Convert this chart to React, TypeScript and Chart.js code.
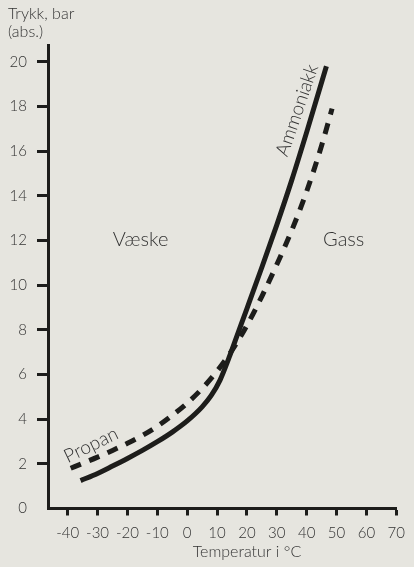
import React, { useEffect, useRef } from "react";
import { Chart, registerables } from "chart.js";

Chart.register(...registerables);

// Vapour pressure curves: temperature (°C) against absolute pressure (bar)
const ammoniaTemp = [-35.7, -30, -25, -20, -15, -10, -5, 0, 5, 8, 11, 14, 17, 20, 25, 30, 35, 40, 46.6];
const ammoniaPressure = [1.25, 1.57, 1.9, 2.24, 2.6, 2.99, 3.42, 3.92, 4.55, 5.05, 5.75, 6.75, 7.85, 8.95, 10.8, 12.7, 14.7, 16.85, 19.8];

const propaneTemp = [-39, -35, -30, -25, -20, -15, -10, -5, 0, 5, 10, 15, 20, 25, 30, 35, 40, 45, 48.5];
const propanePressure = [1.8, 2.02, 2.3, 2.6, 2.92, 3.27, 3.68, 4.17, 4.72, 5.37, 6.15, 7.08, 8.2, 9.5, 10.92, 12.45, 14.2, 16.25, 17.9];

const xTicks = [-40, -30, -20, -10, 0, 10, 20, 30, 40, 50, 60, 70];
const yTicks = [0, 2, 4, 6, 8, 10, 12, 14, 16, 18, 20];

const FONT = "Lato, 'Open Sans', sans-serif";
const WEIGHT = 300;
const INK = "#1d1d1b";
const TEXT = "#333333";
const BG = "#e6e5df";

// Text placed inside the plot, anchored in data coordinates
const plotLabels = [
  { text: "Væske", t: -15.6, p: 12.04, angle: 0, size: 20 },
  { text: "Gass", t: 52.4, p: 12.04, angle: 0, size: 20 },
  { text: "Ammoniakk", t: 36.8, p: 17.83, angle: -71, size: 19 },
  { text: "Propan", t: -32.2, p: 2.84, angle: -26, size: 19 },
];

const textPlugin = {
  id: "chartText",
  afterDraw(chart: any) {
    const { ctx, scales } = chart;
    ctx.save();
    ctx.fillStyle = TEXT;

    // y-axis title (two lines, top-left)
    ctx.font = `${WEIGHT} 16px ${FONT}`;
    ctx.textAlign = "left";
    ctx.textBaseline = "middle";
    ctx.fillText("Trykk, bar", 8, 14);
    ctx.fillText("(abs.)", 8, 32);

    // x-axis title
    ctx.textAlign = "center";
    ctx.fillText("Temperatur i °C", 247, 552);

    for (const l of plotLabels) {
      const px = scales.x.getPixelForValue(l.t);
      const py = scales.y.getPixelForValue(l.p);
      ctx.save();
      ctx.translate(px, py);
      ctx.rotate((l.angle * Math.PI) / 180);
      ctx.font = `${WEIGHT} ${l.size}px ${FONT}`;
      ctx.textAlign = "center";
      ctx.textBaseline = "middle";
      ctx.fillText(l.text, 0, 0);
      ctx.restore();
    }
    ctx.restore();
  },
};

const bgPlugin = {
  id: "bg",
  beforeDraw(chart: any) {
    const { ctx, width, height } = chart;
    ctx.save();
    ctx.fillStyle = BG;
    ctx.fillRect(0, 0, width, height);
    ctx.restore();
  },
};

export default function App() {
  const canvasRef = useRef<HTMLCanvasElement | null>(null);

  useEffect(() => {
    document.body.style.margin = "0";
    document.body.style.background = BG;
    const canvas = canvasRef.current;
    if (!canvas) return;

    const chart = new Chart(canvas, {
      type: "line",
      data: {
        datasets: [
          {
            label: "Ammoniakk",
            data: ammoniaTemp.map((t, i) => ({ x: t, y: ammoniaPressure[i] })),
            borderColor: INK,
            borderWidth: 5,
            pointRadius: 0,
            cubicInterpolationMode: "monotone",
            borderCapStyle: "butt",
            fill: false,
          },
          {
            label: "Propan",
            data: propaneTemp.map((t, i) => ({ x: t, y: propanePressure[i] })),
            borderColor: INK,
            borderWidth: 5,
            borderDash: [11, 9],
            pointRadius: 0,
            cubicInterpolationMode: "monotone",
            borderCapStyle: "butt",
            fill: false,
          },
        ],
      },
      options: {
        responsive: false,
        animation: false,
        layout: { padding: { top: 45, right: 11, left: 0, bottom: 0 } },
        plugins: {
          legend: { display: false },
          tooltip: { enabled: false },
        },
        scales: {
          x: {
            type: "linear",
            min: -46.6,
            max: 70,
            afterBuildTicks: (s: any) => {
              s.ticks = xTicks.map((v) => ({ value: v }));
            },
            afterFit: (s: any) => {
              s.height = 58.5;
            },
            grid: {
              drawOnChartArea: false,
              drawTicks: true,
              tickLength: 7,
              tickWidth: 3,
              tickColor: INK,
            },
            border: { display: true, width: 3, color: INK },
            ticks: {
              padding: 9,
              autoSkip: false,
              maxRotation: 0,
              color: TEXT,
              font: { family: FONT, size: 15, weight: WEIGHT },
              callback: (v: any) => String(v),
            },
          },
          y: {
            type: "linear",
            min: 0,
            max: 20.75,
            afterBuildTicks: (s: any) => {
              s.ticks = yTicks.map((v) => ({ value: v }));
            },
            afterFit: (s: any) => {
              s.width = 48;
            },
            grid: {
              drawOnChartArea: false,
              drawTicks: true,
              tickLength: 11,
              tickWidth: 3,
              tickColor: (c: any) => (c.tick && c.tick.value === 0 ? "rgba(0,0,0,0)" : INK),
            },
            border: { display: true, width: 3, color: INK },
            ticks: {
              padding: 10,
              color: TEXT,
              font: { family: FONT, size: 15, weight: WEIGHT },
              callback: (v: any) => String(v),
            },
          },
        },
      },
      plugins: [bgPlugin, textPlugin],
    } as any);

    return () => chart.destroy();
  }, []);

  return (
    <div style={{ width: 414, height: 567 }}>
      <canvas ref={canvasRef} width={414} height={567} style={{ display: "block" }} />
    </div>
  );
}
